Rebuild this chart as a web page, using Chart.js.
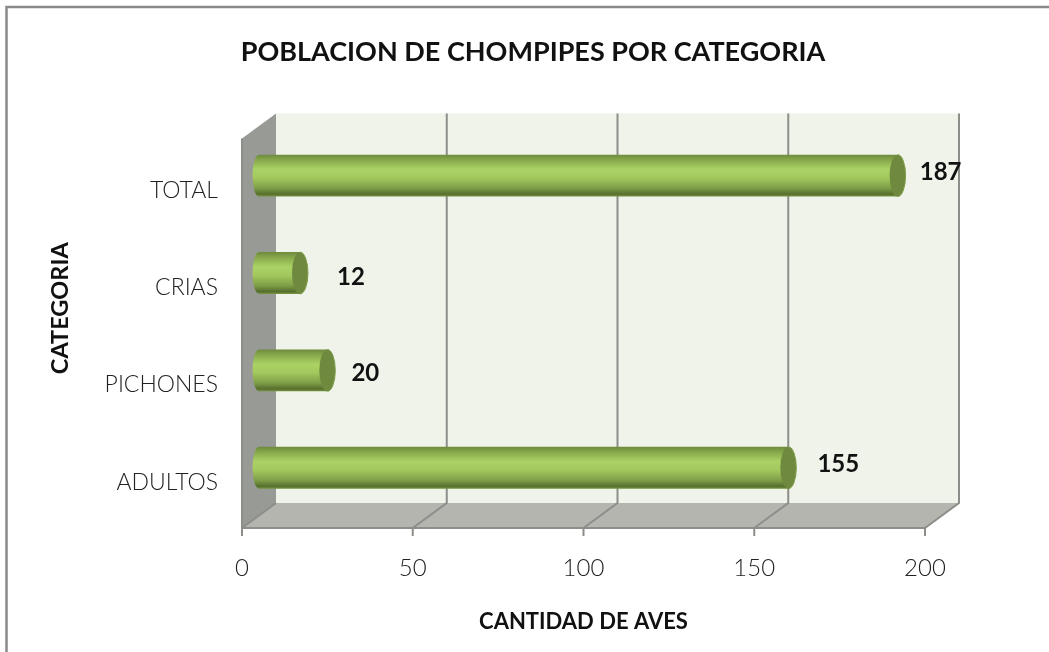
<!DOCTYPE html>
<html>
<head>
<meta charset="utf-8">
<style>
  html, body { margin: 0; padding: 0; background: #fff; }
  #wrap { width: 1049px; height: 652px; }
</style>
<script src="https://cdn.jsdelivr.net/npm/chart.js@4/dist/chart.umd.min.js"></script>
</head>
<body>
<div id="wrap"><canvas id="chart" width="1049" height="652"></canvas></div>
<script>
const categories = ['TOTAL', 'CRIAS', 'PICHONES', 'ADULTOS'];
const birds = [187, 12, 20, 155];
const xTicks = [0, 50, 100, 150, 200];

const titleText = 'POBLACION DE CHOMPIPES POR CATEGORIA';
const xTitle = 'CANTIDAD DE AVES';
const yTitle = 'CATEGORIA';

const FONT = 'Lato, "Open Sans", sans-serif';
// how far the back wall sits from the front plane of the 3d box
const DEPTH_X = 34;
const DEPTH_Y = -25;
const LINE = '#8c8e8a';
// the value labels were hand placed in the original, so they do not sit evenly
const labelNudgeX = [43, 51, 38, 50];
const labelNudgeY = [-2, 5, 4, -3];

function barGradient(context) {
  const { chart, dataIndex } = context;
  const mid = chart.scales.y ? chart.scales.y.getPixelForValue(dataIndex) : NaN;
  if (!Number.isFinite(mid)) return '#9dbf5a';
  const half = 21;
  const g = chart.ctx.createLinearGradient(0, mid - half, 0, mid + half);
  g.addColorStop(0, '#6d8a3c');
  g.addColorStop(0.12, '#86a64a');
  g.addColorStop(0.35, '#aad264');
  g.addColorStop(0.55, '#a3c95e');
  g.addColorStop(0.8, '#7f9e47');
  g.addColorStop(0.94, '#566f2e');
  g.addColorStop(1, '#76963f');
  return g;
}

const box3d = {
  id: 'box3d',
  afterLayout(chart) {
    // title is centred on the plot plus labels, not on the padded box
    if (chart.titleBlock) chart.titleBlock.left = 141;
  },
  beforeDatasetsDraw(chart) {
    const { ctx, scales: { x, y } } = chart;
    const l = x.left, r = x.right, t = y.top, b = y.bottom;
    ctx.save();

    // back wall
    ctx.fillStyle = '#f0f3ea';
    ctx.fillRect(l + DEPTH_X, t + DEPTH_Y, r - l, b - t);
    // floor
    ctx.fillStyle = '#b3b5ae';
    ctx.beginPath();
    ctx.moveTo(l, b);
    ctx.lineTo(l + DEPTH_X, b + DEPTH_Y);
    ctx.lineTo(r + DEPTH_X, b + DEPTH_Y);
    ctx.lineTo(r, b);
    ctx.closePath();
    ctx.fill();
    // side wall
    ctx.fillStyle = '#989a96';
    ctx.beginPath();
    ctx.moveTo(l, t);
    ctx.lineTo(l + DEPTH_X, t + DEPTH_Y);
    ctx.lineTo(l + DEPTH_X, b + DEPTH_Y);
    ctx.lineTo(l, b);
    ctx.closePath();
    ctx.fill();

    ctx.strokeStyle = LINE;
    ctx.lineWidth = 2;
    xTicks.forEach((v) => {
      const px = x.getPixelForValue(v);
      ctx.beginPath();
      ctx.moveTo(px, b + 8);
      ctx.lineTo(px, b);
      ctx.lineTo(px + DEPTH_X, b + DEPTH_Y);
      if (v > 0) ctx.lineTo(px + DEPTH_X, t + DEPTH_Y);
      ctx.stroke();
    });
    ctx.beginPath();
    ctx.moveTo(l, t);
    ctx.lineTo(l, b);
    ctx.lineTo(r, b);
    ctx.stroke();
    ctx.restore();

    // bars run through the middle of the box depth
    ctx.save();
    ctx.translate(DEPTH_X / 2, DEPTH_Y / 2 + 1);
  },
  afterDatasetsDraw(chart) {
    const { ctx, scales: { y } } = chart;
    const meta = chart.getDatasetMeta(0);
    meta.data.forEach((bar, i) => {
      const ry = bar.height / 2;
      // round back of the cylinder at the zero line
      ctx.fillStyle = barGradient({ chart, dataIndex: i });
      ctx.beginPath();
      ctx.ellipse(bar.base, bar.y, 6.5, ry, 0, Math.PI / 2, Math.PI * 1.5);
      ctx.fill();
      // tip of the bar: flat darker face with a lighter rim
      ctx.beginPath();
      ctx.ellipse(bar.x, bar.y, 8, ry, 0, 0, Math.PI * 2);
      ctx.fillStyle = '#6f8a3f';
      ctx.fill();
      ctx.beginPath();
      ctx.ellipse(bar.x, bar.y, 8, ry, 0, -Math.PI / 2, Math.PI / 2);
      ctx.strokeStyle = '#7f9e47';
      ctx.lineWidth = 1;
      ctx.stroke();
    });
    ctx.restore();

    ctx.save();
    ctx.font = 'bold 24px ' + FONT;
    ctx.fillStyle = '#111';
    ctx.textAlign = 'center';
    ctx.textBaseline = 'middle';
    meta.data.forEach((bar, i) => {
      ctx.fillText(String(birds[i]), bar.x + DEPTH_X / 2 + labelNudgeX[i], bar.y + DEPTH_Y / 2 + labelNudgeY[i]);
    });
    ctx.restore();

    // axis title is centred on the back wall, which the scale title option cannot do
    ctx.save();
    ctx.translate(60, (y.top + y.bottom) / 2 + DEPTH_Y);
    ctx.rotate(-Math.PI / 2);
    ctx.font = 'bold 23.5px ' + FONT;
    ctx.fillStyle = '#111';
    ctx.textAlign = 'center';
    ctx.textBaseline = 'middle';
    ctx.fillText(yTitle, 0, 0);
    ctx.restore();

    // the picture only has a frame along its top and left edges
    ctx.save();
    ctx.strokeStyle = '#8a8a8a';
    ctx.lineWidth = 2.5;
    ctx.beginPath();
    ctx.moveTo(6.5, 652);
    ctx.lineTo(6.5, 7);
    ctx.lineTo(1049, 7);
    ctx.stroke();
    ctx.restore();
  },
};

new Chart(document.getElementById('chart'), {
  type: 'bar',
  data: {
    labels: categories,
    datasets: [{
      data: birds,
      backgroundColor: barGradient,
      borderWidth: 0,
      categoryPercentage: 1,
      barPercentage: 0.43,
    }],
  },
  options: {
    indexAxis: 'y',
    responsive: false,
    animation: false,
    layout: { padding: { left: 47, right: 124, top: 36, bottom: 17 } },
    plugins: {
      legend: { display: false },
      tooltip: { enabled: false },
      title: {
        display: true,
        text: titleText,
        color: '#111',
        font: { family: FONT, size: 27, weight: 'bold' },
        padding: { top: 0, bottom: 70 },
      },
    },
    scales: {
      x: {
        min: 0,
        max: 200,
        afterFit(scale) { scale.height = 107; },
        afterBuildTicks(scale) { scale.ticks = xTicks.map((value) => ({ value })); },
        grid: { display: false },
        border: { display: false },
        ticks: {
          padding: 18,
          color: '#222',
          font: { family: FONT, size: 24, weight: 300 },
          maxRotation: 0,
        },
        title: {
          display: true,
          text: xTitle,
          color: '#111',
          font: { family: FONT, size: 22, weight: 'bold' },
          padding: { top: 10, bottom: 0 },
        },
      },
      y: {
        afterFit(scale) { scale.width = 195; },
        grid: { display: false },
        border: { display: false },
        ticks: {
          padding: 16,
          labelOffset: 3,
          color: '#222',
          font: { family: FONT, size: 23, weight: 300 },
        },
      },
    },
  },
  plugins: [box3d],
});
</script>
</body>
</html>
